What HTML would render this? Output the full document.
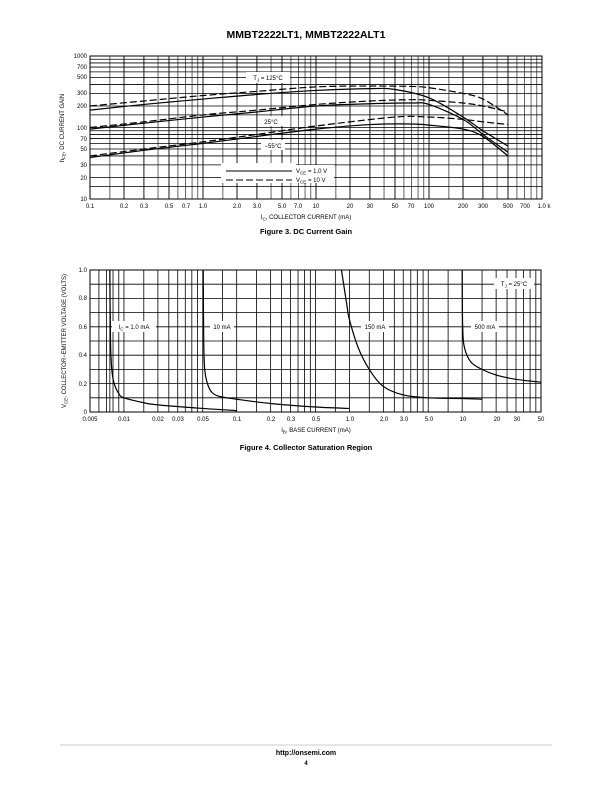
<!DOCTYPE html>
<html><head><meta charset="utf-8"><style>
body{margin:0;background:#fff}
svg{display:block;font-family:"Liberation Sans",sans-serif}
text{fill:#000}
.t{font-size:6px}
</style></head><body>
<svg id="s" width="612" height="792" viewBox="0 0 612 792">
<rect width="612" height="792" fill="#fff"/>
<text x="306" y="38" text-anchor="middle" font-size="10.5" font-weight="bold">MMBT2222LT1, MMBT2222ALT1</text>
<g id="g3"></g><g id="g4"></g>
<g class="t" text-anchor="end">
<text x="87" y="58">1000</text><text x="87" y="69">700</text><text x="87" y="79">500</text><text x="87" y="95">300</text><text x="87" y="108">200</text><text x="87" y="130">100</text><text x="87" y="141">70</text><text x="87" y="151">50</text><text x="87" y="167">30</text><text x="87" y="180">20</text><text x="87" y="201">10</text>
</g>
<g class="t" text-anchor="middle">
<text x="90" y="208">0.1</text><text x="124" y="208">0.2</text><text x="144" y="208">0.3</text><text x="169" y="208">0.5</text><text x="186" y="208">0.7</text><text x="203" y="208">1.0</text><text x="237" y="208">2.0</text><text x="257" y="208">3.0</text><text x="282" y="208">5.0</text><text x="298" y="208">7.0</text><text x="316" y="208">10</text><text x="350" y="208">20</text><text x="370" y="208">30</text><text x="395" y="208">50</text><text x="411" y="208">70</text><text x="429" y="208">100</text><text x="463" y="208">200</text><text x="483" y="208">300</text><text x="508" y="208">500</text><text x="525" y="208">700</text><text x="544" y="208">1.0 k</text>
</g>
<text x="306" y="219" text-anchor="middle" font-size="6">I<tspan font-size="4.5" dy="1.5">C</tspan><tspan dy="-1.5">, COLLECTOR CURRENT (mA)</tspan></text>
<text x="306" y="234" text-anchor="middle" font-size="7.5" font-weight="bold">Figure 3. DC Current Gain</text>
<text transform="translate(64,128) rotate(-90)" text-anchor="middle" font-size="6">h<tspan font-size="4.5" dy="1.5">FE</tspan><tspan dy="-1.5">, DC CURRENT GAIN</tspan></text>
<rect x="246" y="72" width="44" height="11" fill="#fff"/><text x="268" y="80" text-anchor="middle" font-size="6">T<tspan font-size="4.5" dy="1.5">J</tspan><tspan dy="-1.5"> = 125°C</tspan></text>
<rect x="259" y="116" width="24" height="10" fill="#fff"/><text x="271" y="124" text-anchor="middle" font-size="6">25°C</text>
<rect x="261" y="140" width="24" height="10" fill="#fff"/><text x="273" y="148" text-anchor="middle" font-size="6">−55°C</text>
<rect x="221" y="163" width="75" height="20" fill="#fff"/>
<line x1="226" y1="171" x2="292" y2="171" stroke="#000" stroke-width="1"/>
<line x1="226" y1="180" x2="292" y2="180" stroke="#000" stroke-width="1" stroke-dasharray="7,3"/>
<rect x="292" y="165" width="42" height="18" fill="#fff"/>
<text x="296" y="173" font-size="6">V<tspan font-size="4.5" dy="1.5">CE</tspan><tspan dy="-1.5"> = 1.0 V</tspan></text>
<text x="296" y="182" font-size="6">V<tspan font-size="4.5" dy="1.5">CE</tspan><tspan dy="-1.5"> = 10 V</tspan></text>

<g class="t" text-anchor="end">
<text x="87" y="272">1.0</text><text x="87" y="300">0.8</text><text x="87" y="329">0.6</text><text x="87" y="357">0.4</text><text x="87" y="386">0.2</text><text x="87" y="414">0</text>
</g>
<g class="t" text-anchor="middle">
<text x="90" y="421">0.005</text><text x="124" y="421">0.01</text><text x="158" y="421">0.02</text><text x="178" y="421">0.03</text><text x="203" y="421">0.05</text><text x="237" y="421">0.1</text><text x="271" y="421">0.2</text><text x="291" y="421">0.3</text><text x="316" y="421">0.5</text><text x="350" y="421">1.0</text><text x="384" y="421">2.0</text><text x="404" y="421">3.0</text><text x="429" y="421">5.0</text><text x="463" y="421">10</text><text x="497" y="421">20</text><text x="517" y="421">30</text><text x="541" y="421">50</text>
</g>
<text x="316" y="432" text-anchor="middle" font-size="6">I<tspan font-size="4.5" dy="1.5">B</tspan><tspan dy="-1.5">, BASE CURRENT (mA)</tspan></text>
<text x="306" y="450" text-anchor="middle" font-size="7.5" font-weight="bold">Figure 4. Collector Saturation Region</text>
<text transform="translate(66,341) rotate(-90)" text-anchor="middle" font-size="6">V<tspan font-size="4.5" dy="1.5">CE</tspan><tspan dy="-1.5">, COLLECTOR−EMITTER VOLTAGE (VOLTS)</tspan></text>
<rect x="112" y="321" width="44" height="11" fill="#fff"/><text x="134" y="329" text-anchor="middle" font-size="6">I<tspan font-size="4.5" dy="1.5">C</tspan><tspan dy="-1.5"> = 1.0 mA</tspan></text>
<rect x="210" y="321" width="24" height="11" fill="#fff"/><text x="222" y="329" text-anchor="middle" font-size="6">10 mA</text>
<rect x="361" y="321" width="28" height="11" fill="#fff"/><text x="375" y="329" text-anchor="middle" font-size="6">150 mA</text>
<rect x="471" y="321" width="28" height="11" fill="#fff"/><text x="485" y="329" text-anchor="middle" font-size="6">500 mA</text>
<rect x="494" y="278" width="40" height="11" fill="#fff"/><text x="514" y="286" text-anchor="middle" font-size="6">T<tspan font-size="4.5" dy="1.5">J</tspan><tspan dy="-1.5"> = 25°C</tspan></text>

<line x1="60" y1="745" x2="552" y2="745" stroke="#999" stroke-width="0.6"/>
<text x="306" y="755" text-anchor="middle" font-size="7" font-weight="bold">http://onsemi.com</text>
<text x="306" y="765" text-anchor="middle" font-size="6" font-weight="bold">4</text>
</svg>
<script>
var NS="http://www.w3.org/2000/svg";
function el(p,t,a){var e=document.createElementNS(NS,t);for(var k in a)e.setAttribute(k,a[k]);p.appendChild(e);return e;}
var L=Math.log10,mul=[1,1.5,2,3,4,5,6,7,8,9];
var g3=document.getElementById('g3'),g4=document.getElementById('g4');
function X3(v){return 90+113*L(v/0.1)}function Y3(v){return 199-71.5*L(v/10)}
function X4(v){return 90+112.75*L(v/0.005)}function Y4(v){return 412-142*v}
// fig3 grid
[0.1,1,10,100].forEach(function(d){mul.forEach(function(m){var x=X3(d*m);el(g3,'line',{x1:x,y1:56,x2:x,y2:199,stroke:'#000','stroke-width':(m==1||m==2||m==3||m==5)?0.9:0.6});});});
[10,100].forEach(function(d){mul.forEach(function(m){var y=Y3(d*m);el(g3,'line',{x1:90,y1:y,x2:542,y2:y,stroke:'#000','stroke-width':0.8});});});
el(g3,'rect',{x:90,y:56,width:452,height:143,fill:'none',stroke:'#000','stroke-width':1});
// fig4 grid
[0.005,0.05,0.5,5].forEach(function(d,i){mul.forEach(function(m){var v=d*m;if(i==0&&m<1)return;var x=X4(v);if(x>541.5)return;el(g4,'line',{x1:x,y1:270,x2:x,y2:412,stroke:'#000','stroke-width':0.8});});});
[0.006,0.007,0.008,0.009].forEach(function(v){var x=X4(v);el(g4,'line',{x1:x,y1:270,x2:x,y2:412,stroke:'#000','stroke-width':0.8});});
for(var i=1;i<10;i++){var y=Y4(i/10);el(g4,'line',{x1:90,y1:y,x2:541,y2:y,stroke:'#000','stroke-width':0.8});}
el(g4,'rect',{x:90,y:270,width:451,height:142,fill:'none',stroke:'#000','stroke-width':1});
function curve(g,pts,fx,fy,dash,w){var d='';var P=pts.map(function(p){return[fx(p[0]),fy(p[1])]});
d='M'+P[0][0]+','+P[0][1];for(var i=1;i<P.length;i++){var p0=P[i-1],p1=P[i],pm=P[i-2]||p0,p2=P[i+1]||p1;
var c1=[p0[0]+(p1[0]-pm[0])/6,p0[1]+(p1[1]-pm[1])/6],c2=[p1[0]-(p2[0]-p0[0])/6,p1[1]-(p2[1]-p0[1])/6];
d+='C'+c1+' '+c2+' '+p1;}var a={d:d,fill:'none',stroke:'#000','stroke-width':w||1.2};if(dash)a['stroke-dasharray']='7,3';el(g,'path',a);}
var c3=[
[[[0.1,175],[0.3,210],[1,250],[3,290],[10,330],[30,350],[50,340],[100,260],[200,140],[300,90],[500,55]],0],
[[[0.1,200],[0.3,235],[1,280],[3,320],[10,370],[30,380],[70,375],[100,360],[200,300],[300,250],[500,150]],1],
[[[0.1,95],[0.3,115],[1,140],[3,165],[10,200],[30,215],[70,220],[100,210],[200,130],[300,80],[500,45]],0],
[[[0.1,100],[0.3,120],[1,150],[3,175],[10,210],[30,235],[70,245],[100,240],[200,220],[300,200],[500,165]],1],
[[[0.1,38],[0.3,48],[1,60],[3,75],[10,95],[30,110],[70,112],[100,108],[200,95],[300,75],[500,40]],0],
[[[0.1,40],[0.3,50],[1,63],[3,80],[10,105],[50,140],[100,140],[200,130],[300,120],[500,110]],1]];
c3.forEach(function(c){curve(g3,c[0],X3,Y3,c[1]);});
var c4=[
[[0.0075,1.0],[0.0076,0.5],[0.0078,0.3],[0.0082,0.2],[0.009,0.13],[0.01,0.1],[0.015,0.065],[0.02,0.05],[0.05,0.025],[0.1,0.01]],
[[0.0505,1.0],[0.051,0.5],[0.052,0.3],[0.055,0.2],[0.06,0.14],[0.07,0.11],[0.1,0.09],[0.2,0.06],[0.5,0.035],[1.0,0.025]],
[[0.85,1.0],[0.95,0.75],[1.0,0.65],[1.2,0.45],[1.5,0.3],[2,0.18],[3,0.12],[5,0.1],[10,0.095],[15,0.09]],
[[10,1.0],[10.1,0.6],[10.5,0.45],[12,0.35],[15,0.3],[20,0.26],[30,0.23],[50,0.21]]];
c4.forEach(function(c){curve(g4,c,X4,Y4,0);});
</script>
</body></html>
